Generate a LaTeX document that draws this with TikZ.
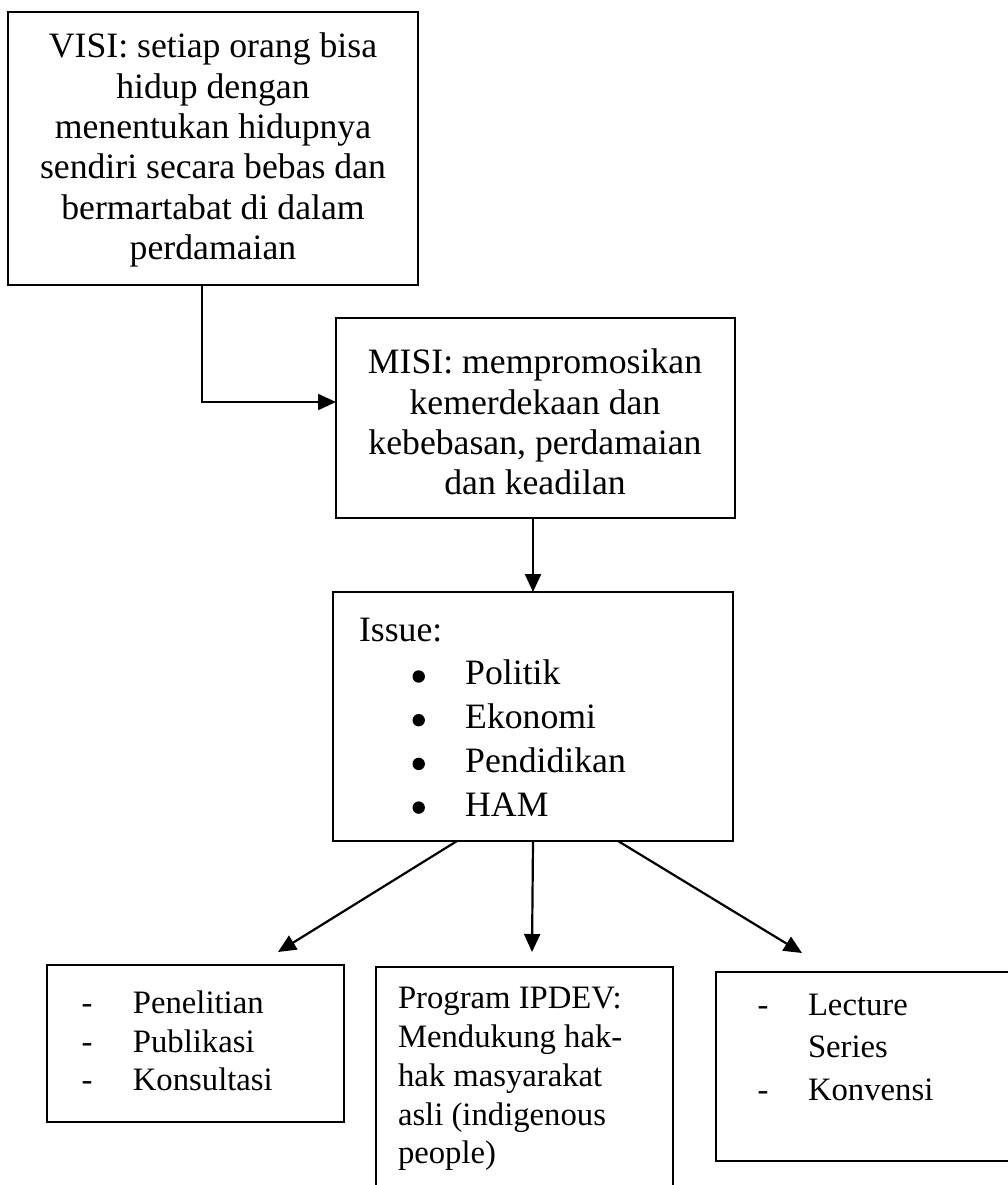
\documentclass[tikz,border=0pt]{standalone}
\usepackage{fontspec}
\setmainfont{Liberation Serif}
\usetikzlibrary{arrows.meta,calc}
\tikzset{
  box/.style={draw, line width=2.5pt, inner sep=0pt, outer sep=0pt},
  arr/.style={line width=2.2pt, -{Triangle[length=18pt,width=16pt]}},
  bigtxt/.style={inner sep=0pt, outer sep=0pt, font=\fontsize{35.7pt}{40.3pt}\selectfont},
  smalltxt/.style={inner sep=0pt, outer sep=0pt, font=\fontsize{32.7pt}{38.8pt}\selectfont},
}
\newcommand\issuebul{\makebox[53.2pt][l]{\hspace*{0.5pt}\tikz[baseline={(0pt,-8.5pt)}]\fill (0pt,0pt) circle (6.2pt);}}
\begin{document}
\begin{tikzpicture}[x=1pt, y=-1pt]
\fill[white] (0,0) rectangle (1007,1185);
\useasboundingbox (0,0) rectangle (1007,1185);

% boxes
\node[box, minimum width=410pt, minimum height=273pt] (visi) at (213,148.5) {};
\node[box, minimum width=399pt, minimum height=200pt] (misi) at (535.5,418) {};
\node[box, minimum width=400pt, minimum height=249pt] (issue) at (533,716.5) {};
\node[box, minimum width=297pt, minimum height=157pt] (riset) at (195.5,1043.5) {};
\node[box, minimum width=297pt, minimum height=238pt] (ipdev) at (524.5,1086) {};
\node[box, minimum width=314pt, minimum height=189pt] (lecture) at (873,1066.5) {};

% texts
\node[bigtxt, align=center] (visit) at (213,150) {VISI: setiap orang bisa\\hidup dengan\\menentukan hidupnya\\sendiri secara bebas dan\\bermartabat di dalam\\perdamaian};
\node[bigtxt, align=center] (misit) at (535,422) {MISI: mempromosikan\\kemerdekaan dan\\kebebasan, perdamaian\\dan keadilan};
\node[bigtxt, align=left, anchor=west, font=\fontsize{35.7pt}{43.7pt}\selectfont] (issuet) at (359,717) {Issue:\\
\hspace*{53pt}\issuebul Politik\\
\hspace*{53pt}\issuebul Ekonomi\\
\hspace*{53pt}\issuebul Pendidikan\\
\hspace*{53pt}\issuebul HAM};
\node[smalltxt, align=left, anchor=west] (risett) at (81.5,1041) {\makebox[51.4pt][l]{-}Penelitian\\
\makebox[51.4pt][l]{-}Publikasi\\
\makebox[51.4pt][l]{-}Konsultasi};
\node[smalltxt, align=left, anchor=west] (ipdevt) at (398,1079) {Program IPDEV:\\Mendukung hak-\\hak masyarakat\\asli (indigenous\\people)};
\node[smalltxt, align=left, anchor=west, font=\fontsize{32.7pt}{42.5pt}\selectfont] (lecturet) at (757.6,1047) {\makebox[50.4pt][l]{-}Lecture\\
\hspace*{50.4pt}Series\\
\makebox[50.4pt][l]{-}Konvensi};

% connectors
\coordinate (tipL) at (278,952);
\coordinate (tipM) at (532,952);
\coordinate (tipR) at (802,953);
\draw[arr] ($(visi.south)+(-11,0)$) |- ($(misi.west)+(0,-16)$);
\draw[arr] (misi.south -| issue.north) -- (issue.north);
\draw[arr] ($(issue.south)+(-76,0)$) -- (tipL);
\draw[arr] (issue.south) -- (tipM);
\draw[arr] ($(issue.south)+(85,0)$) -- (tipR);
\end{tikzpicture}
\end{document}
